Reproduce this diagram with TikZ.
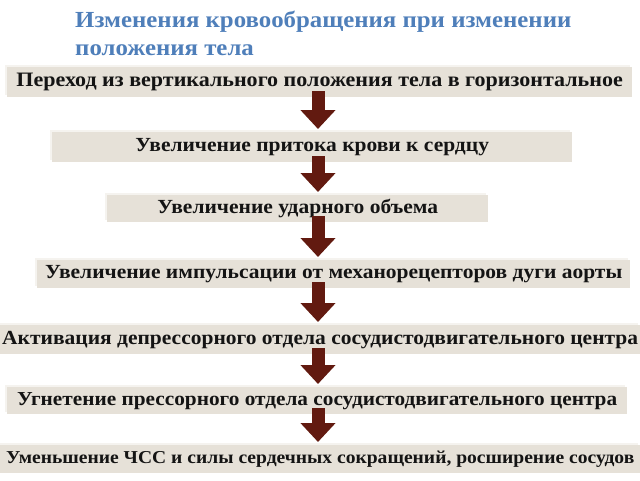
\documentclass[tikz,border=0pt]{standalone}
\usepackage{fontspec}
\setmainfont{Liberation Serif}
\newfontfamily\boxfont[FakeStretch=1.075]{Liberation Serif}
\newfontfamily\titlefont[FakeStretch=1.08]{Liberation Serif}
\usetikzlibrary{arrows.meta}
\definecolor{boxfill}{HTML}{E6E1D8}
\definecolor{boxshadow}{HTML}{F5F3EF}
\definecolor{titleblue}{HTML}{4F7FBA}
\definecolor{arrowred}{HTML}{621A10}
\tikzset{
  stepbox/.style={fill=boxfill, inner sep=0pt, anchor=north west},
  steptext/.style={font=\boxfont\bfseries\fontsize{20}{23}\selectfont, text=black!92, inner sep=0pt},
  bigarrow/.style={draw=arrowred, line width=13pt, -{Triangle[width=34pt,length=19pt]}, arrowred, shorten <=-6pt, shorten >=3pt},
}
\newcommand{\stepnode}[7][]{%
  \fill[boxshadow] (#4-2,#5-2) rectangle (#6-2,#7-2);
  \node[stepbox, minimum width=#6-#4, minimum height=#7-#5] (#2) at (#4,#5) {};
  \node[steptext,#1] at (#2.center) {#3};
}
\begin{document}
\begin{tikzpicture}[x=1pt,y=-1pt]
\useasboundingbox (0,0) rectangle (640,480);
\fill[white] (0,0) rectangle (640,480);
\node[anchor=base west, align=left, text=titleblue, font=\titlefont\bfseries\fontsize{23}{28}\selectfont, inner sep=0pt] (title) at (75,55) {Изменения кровообращения при изменении\\положения тела};
\stepnode[font=\boxfont\bfseries\fontsize{20.5}{23}\selectfont]{b1}{Переход из вертикального положения тела в горизонтальное}{7}{67}{632}{97}
\stepnode{b2}{Увеличение притока крови к сердцу}{52}{132}{572}{162}
\stepnode{b3}{Увеличение ударного объема}{107}{195}{488}{222}
\stepnode{b4}{Увеличение импульсации от механорецепторов дуги аорты}{37}{260}{630}{288}
\stepnode{b5}{Активация депрессорного отдела сосудистодвигательного центра}{0}{325}{640}{354}
\stepnode[font=\boxfont\bfseries\fontsize{19.8}{23}\selectfont]{b6}{Угнетение прессорного отдела сосудистодвигательного центра}{7}{387}{627}{414}
\stepnode[font=\boxfont\bfseries\fontsize{18.2}{23}\selectfont]{b7}{Уменьшение ЧСС и силы сердечных сокращений, росширение сосудов}{0}{445}{640}{473}
\coordinate (ax) at (318,0);
\draw[bigarrow] (b1.south -| ax) -- (b2.north -| ax);
\draw[bigarrow] (b2.south -| ax) -- (b3.north -| ax);
\draw[bigarrow] (b3.south -| ax) -- (b4.north -| ax);
\draw[bigarrow] (b4.south -| ax) -- (b5.north -| ax);
\draw[bigarrow] (b5.south -| ax) -- (b6.north -| ax);
\draw[bigarrow] (b6.south -| ax) -- (b7.north -| ax);
\end{tikzpicture}
\end{document}
